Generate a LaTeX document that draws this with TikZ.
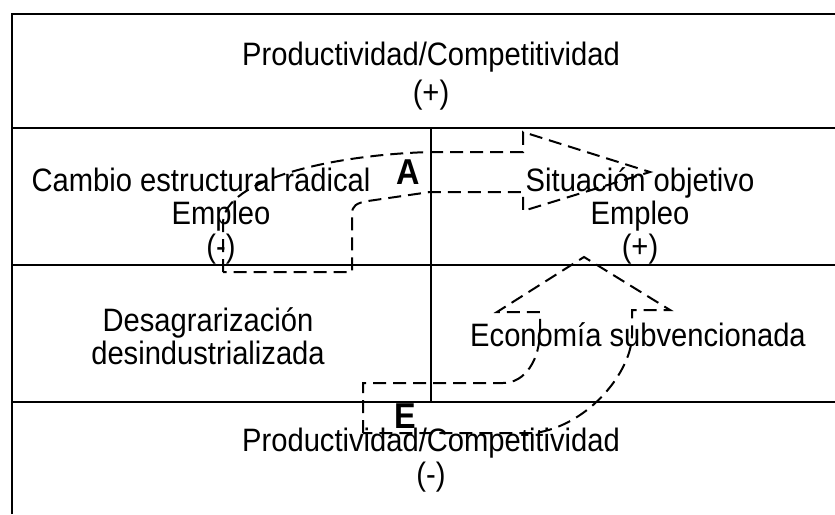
\documentclass[tikz,border=0pt]{standalone}
\usepackage{fontspec}
\setmainfont{Liberation Sans}[FakeStretch=0.9]
\usepackage{tikz}
\usetikzlibrary{positioning}
\tikzset{>=stealth}
\tikzset{
  celda/.style={align=center,inner sep=0pt,font=\fontsize{16.2}{16.5}\selectfont},
  marco/.style={line width=1pt},
  flecha/.style={line width=1pt,dash pattern=on 6.5pt off 3.5pt},
}
\newcommand*{\letra}[1]{\textbf{\fontsize{18}{18}\selectfont #1}}

\begin{document}
\begin{tikzpicture}[x=0.5pt,y=-0.5pt]
\useasboundingbox (0,0) rectangle (835,514);
% cuadro
\draw[marco] (12,514) -- (12,14) -- (835,14);
\draw[marco] (12,128) -- (835,128);
\draw[marco] (12,265) -- (835,265);
\draw[marco] (12,402) -- (835,402);
\draw[marco] (431,128) -- (431,402);

\node[celda,font=\fontsize{16.2}{19}\selectfont] (prodmas) at (431,76) {Productividad/Competitividad\\(+)};
\node[celda] (cambio) at (221,216) {\hspace*{-20pt}Cambio estructural radical\\Empleo\\(-)};
\node[celda] (objetivo) at (640,216) {Situación objetivo\\Empleo\\(+)};
\node[celda] (desagr) at (208,336) {Desagrarización\\desindustrializada};
\node[celda] (subv) at (638,335) {Economía subvencionada};
\node[celda,font=\fontsize{16.2}{17}\selectfont] (prodmenos) at (431,460) {Productividad/Competitividad\\(-)};

% flecha A
\draw[flecha] (223,272) -- (223,222) .. controls (225,180) and (330,155) .. (430,152)
  -- (523,152) -- (523,132) -- (650,172) coordinate (puntaA) -- (523,211) -- (523,192)
  -- (430,192) -- (368,201) .. controls (356,203) and (352,206) .. (352,214)
  -- (352,272) -- cycle;
\node (A) at (408,172) {\letra{A}};

% flecha E
\draw[flecha] (363,433) -- (363,383) -- (503,383) .. controls (525,383) and (540,360) .. (540,330)
  -- (540,312) -- (497,312) -- (584,257) coordinate (puntaE) -- (670,310) -- (632,310)
  -- (632,335) .. controls (632,370) and (590,425) .. (535,433) -- cycle;
\node (E) at (405,416) {\letra{E}};
\end{tikzpicture}
\end{document}
